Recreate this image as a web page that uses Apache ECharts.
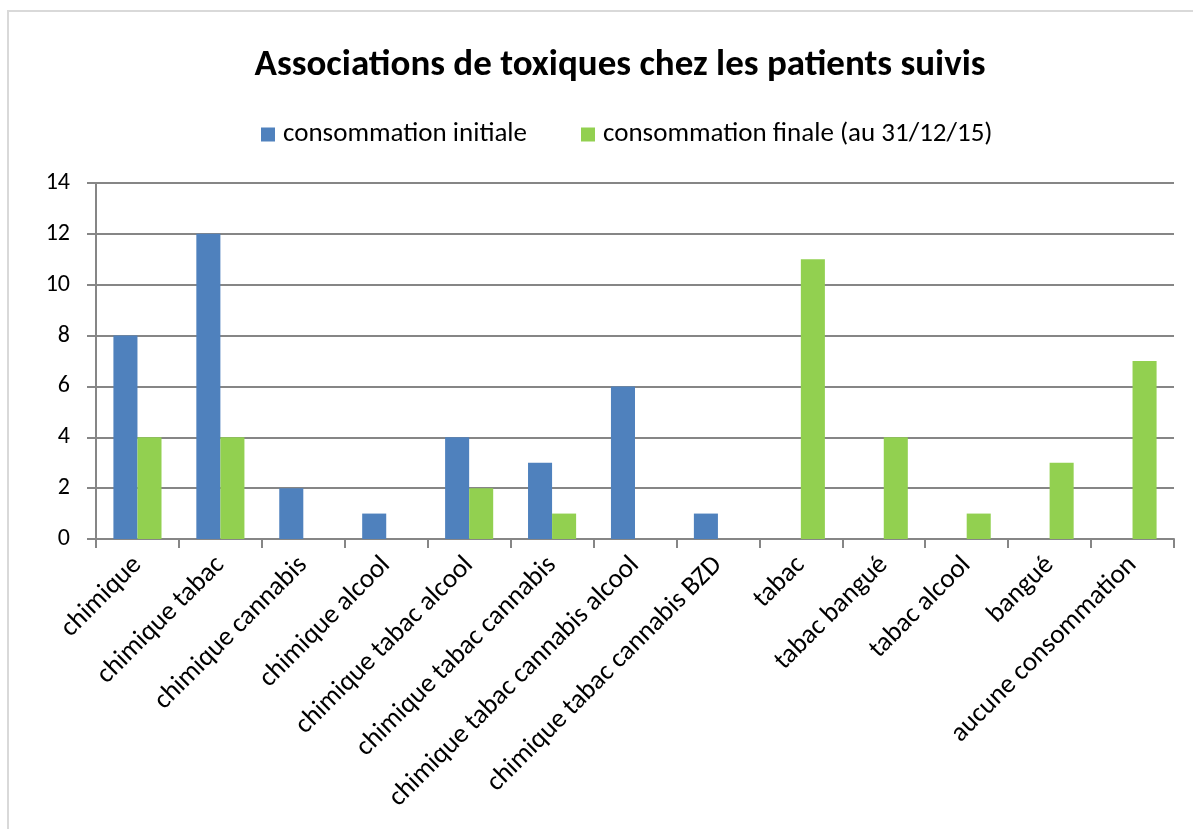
<!DOCTYPE html>
<html>
<head>
<meta charset="utf-8">
<style>
  html, body { margin: 0; padding: 0; background: #fff; }
  #chart { width: 1193px; height: 829px; }
</style>
<script src="https://cdn.jsdelivr.net/npm/echarts@6/dist/echarts.min.js"></script>
</head>
<body>
<div id="chart"></div>
<script>
// Drug-use associations per patient group
const categories = [
  'chimique', 'chimique tabac', 'chimique cannabis', 'chimique alcool',
  'chimique tabac alcool', 'chimique tabac cannabis', 'chimique tabac cannabis alcool',
  'chimique tabac cannabis BZD', 'tabac', 'tabac bangué', 'tabac alcool', 'bangué',
  'aucune consommation'
];
const initialValues = [8, 12, 2, 1, 4, 3, 6, 1, 0, 0, 0, 0, 0];
const finalValues   = [4, 4, 0, 0, 2, 1, 0, 0, 11, 4, 1, 3, 7];
const seriesNames = ['consommation initiale', 'consommation finale (au 31/12/15)'];
const titleText = 'Associations de toxiques chez les patients suivis';

const FONT = 'Carlito, Lato, "Open Sans", sans-serif';
const chart = echarts.init(document.getElementById('chart'), null, { renderer: 'canvas' });

chart.setOption({
  backgroundColor: '#ffffff',
  animation: false,
  title: {
    text: titleText,
    left: 615, top: 42, textAlign: 'center',
    textStyle: { fontFamily: FONT, fontSize: 37, fontWeight: 'bold', color: '#000' }
  },
  legend: {
    data: seriesNames,
    top: 116, left: 256,
    itemWidth: 14, itemHeight: 14, itemGap: 54,
    icon: 'rect',
    textStyle: { fontFamily: FONT, fontSize: 27, color: '#000', padding: [0, 0, 0, 3] }
  },
  graphic: [{
    type: 'rect',
    shape: { x: 8, y: 11, width: 1200, height: 840 },
    style: { fill: 'none', stroke: '#d9d9d9', lineWidth: 2 },
    silent: true, z: -1
  }],
  grid: { left: 96, right: 19, top: 183, bottom: 290, containLabel: false },
  xAxis: {
    type: 'category',
    data: categories,
    axisLine: { lineStyle: { color: '#868686', width: 2 } },
    axisTick: { show: true, length: 9, lineStyle: { color: '#868686', width: 2 } },
    axisLabel: {
      interval: 0, rotate: 45, margin: 22,
      fontFamily: FONT, fontSize: 27, color: '#000'
    }
  },
  yAxis: {
    type: 'value',
    min: 0, max: 14, interval: 2,
    axisLine: { show: true, lineStyle: { color: '#868686', width: 2 } },
    axisTick: { show: true, length: 9, lineStyle: { color: '#868686', width: 2 } },
    splitLine: { lineStyle: { color: '#868686', width: 2 } },
    axisLabel: { margin: 26, fontFamily: FONT, fontSize: 24, color: '#000' }
  },
  series: [
    {
      name: seriesNames[0], type: 'bar', data: initialValues,
      barGap: '0%', barCategoryGap: '42%',
      itemStyle: { color: '#4f81bd' }
    },
    {
      name: seriesNames[1], type: 'bar', data: finalValues,
      barGap: '0%', barCategoryGap: '42%',
      itemStyle: { color: '#92d050' }
    }
  ]
});
</script>
</body>
</html>
